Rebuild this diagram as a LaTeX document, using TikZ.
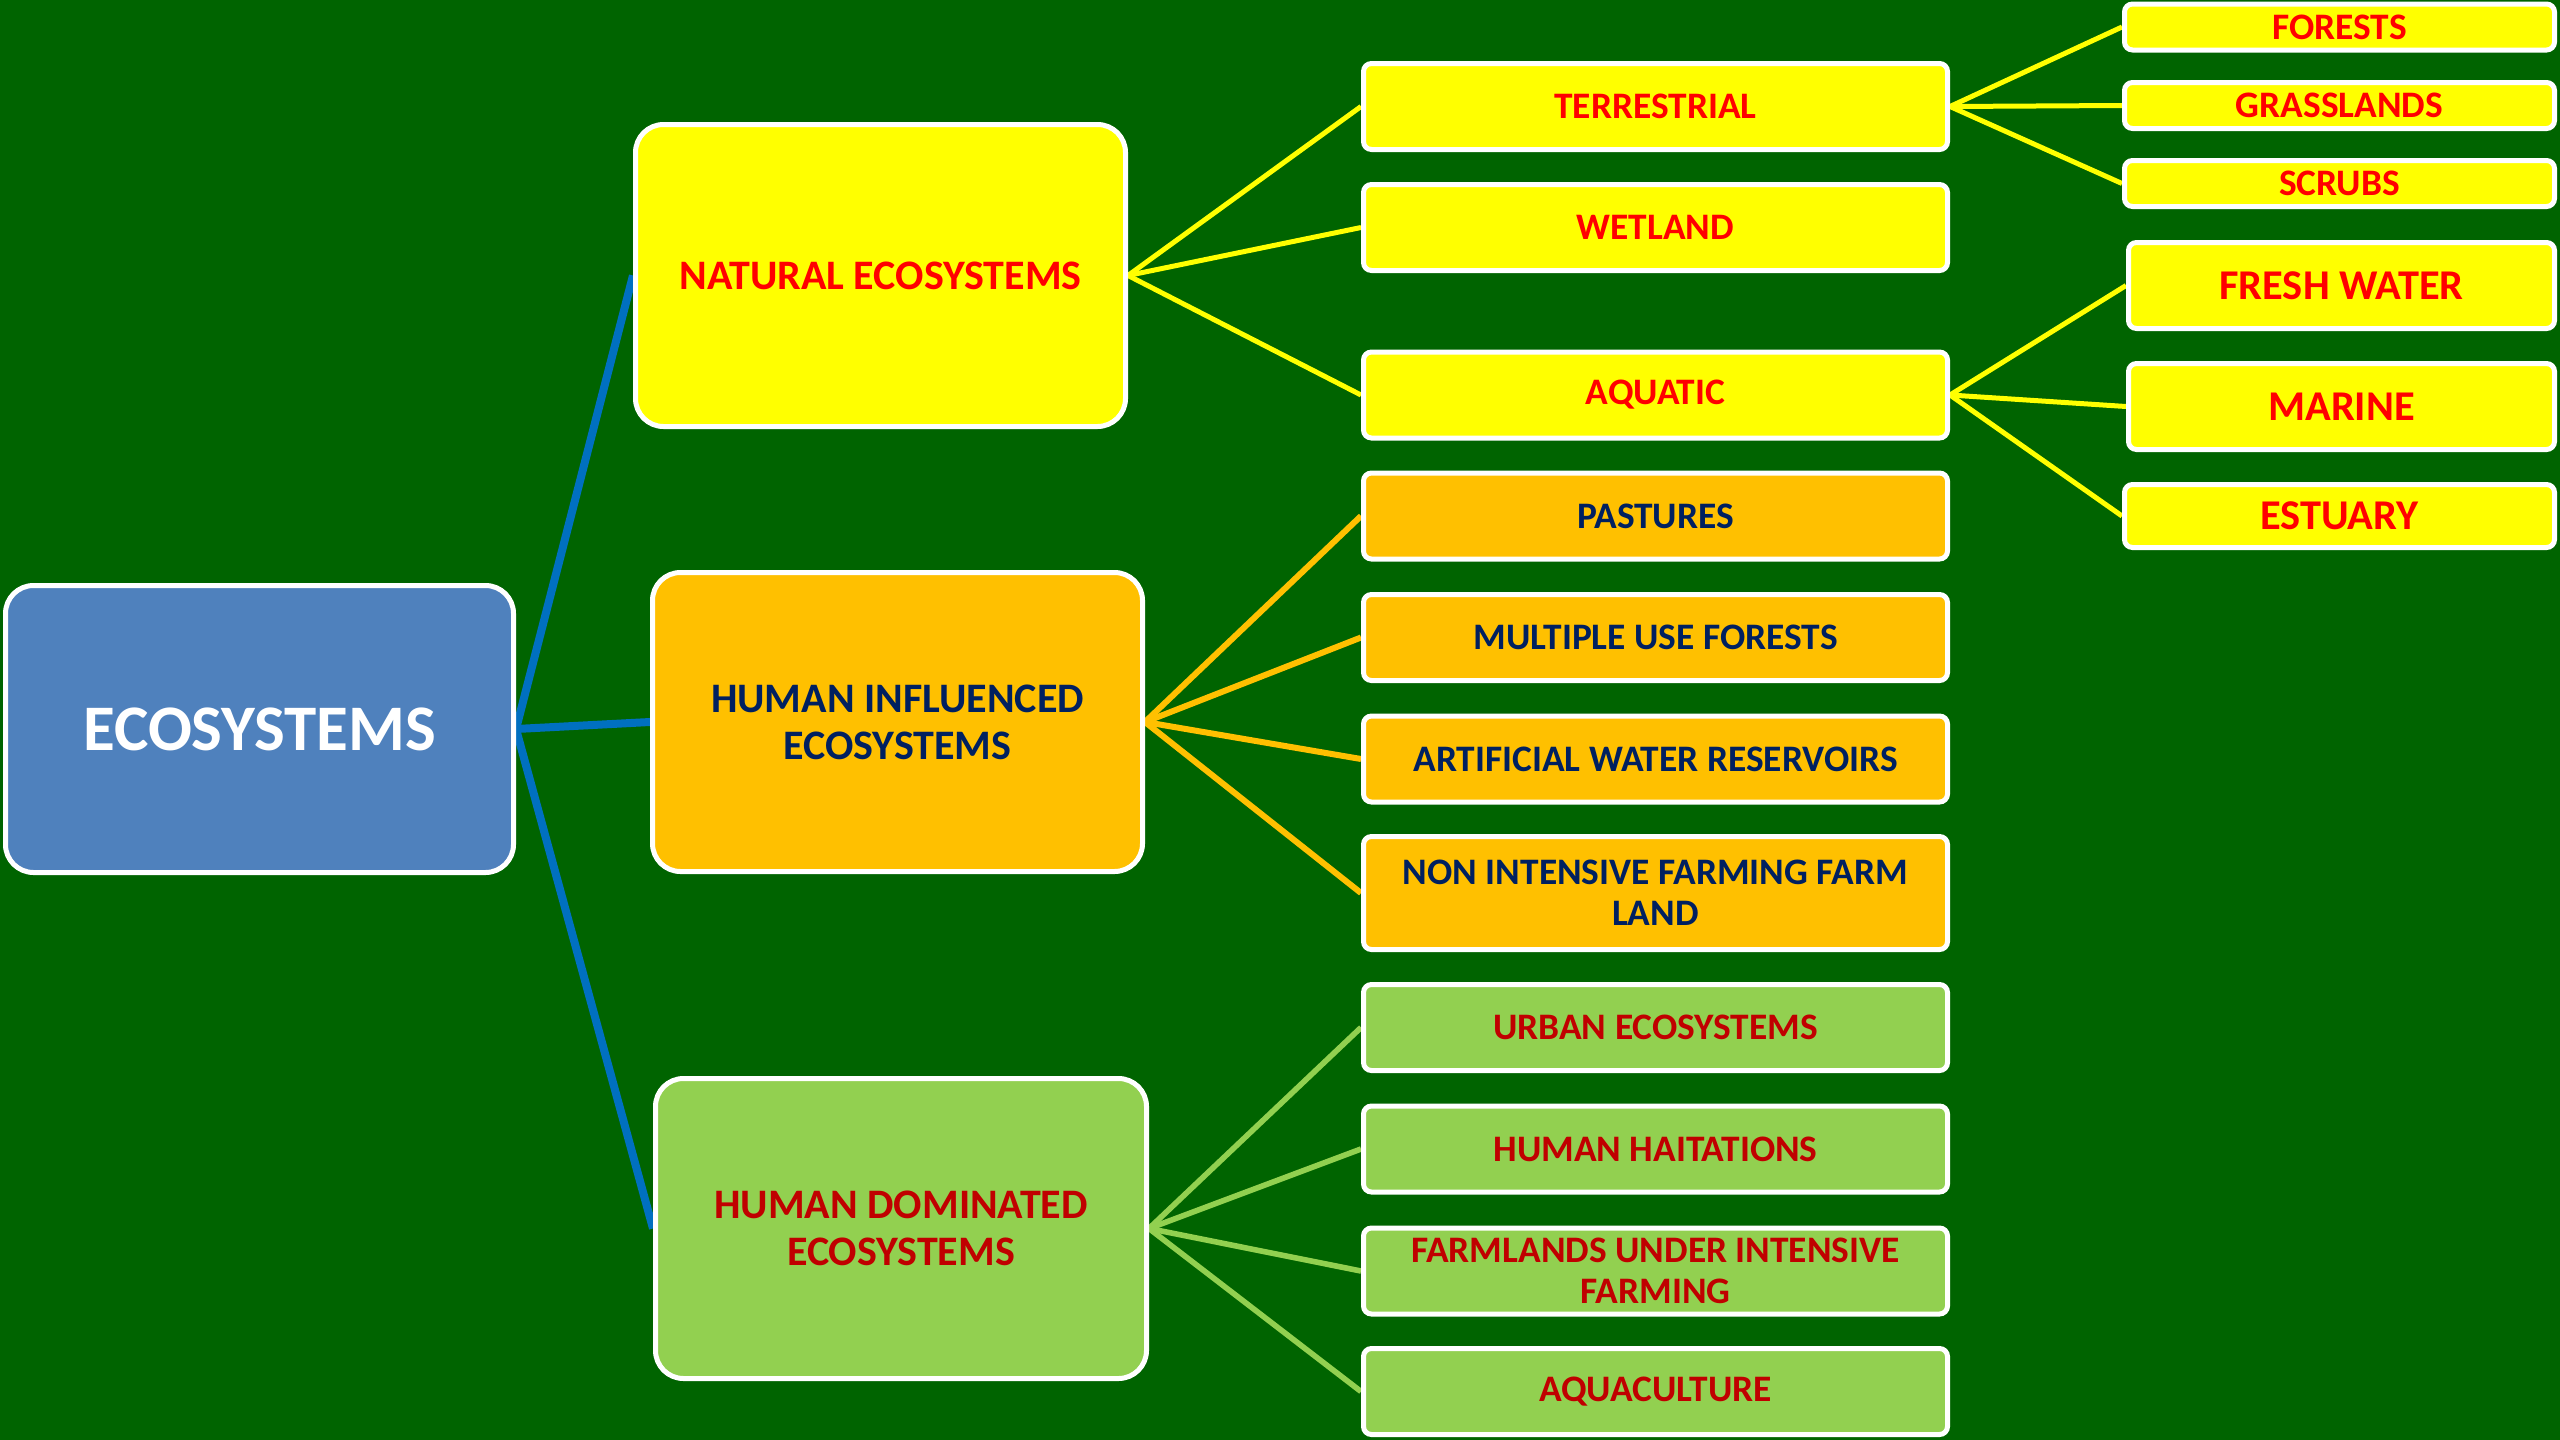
\documentclass[tikz,border=0pt]{standalone}
\usepackage{fontspec}
\setmainfont{Carlito}
\pgfdeclarelayer{bg}
\pgfdeclarelayer{lines}
\pgfsetlayers{bg,lines,main}
\definecolor{bggreen}{RGB}{0,100,0}
\definecolor{ecoblue}{RGB}{79,129,189}
\definecolor{lineblue}{RGB}{0,112,192}
\definecolor{natyellow}{RGB}{255,255,0}
\definecolor{inforange}{RGB}{255,192,0}
\definecolor{domgreen}{RGB}{146,208,80}
\definecolor{navytext}{RGB}{0,32,96}
\definecolor{dkred}{RGB}{192,0,0}
\definecolor{brred}{RGB}{255,0,0}
\begin{document}
\begin{tikzpicture}[x=0.5pt,y=-0.5pt,
  box/.style={draw=white, line width=2.5pt, inner sep=0pt, align=center, font=\bfseries},
  bigbox/.style={box, rounded corners=14pt},
  smallbox/.style={box, rounded corners=4pt},
  natc/.style={fill=natyellow, text=brred},
  infc/.style={fill=inforange, text=navytext},
  domc/.style={fill=domgreen, text=dkred},
  lvtwo/.style={smallbox, minimum width=292pt, minimum height=43pt},
  fbig/.style={font=\bfseries\fontsize{21}{23.5}\selectfont},
  fmid/.style={font=\bfseries\fontsize{18.7}{20.5}\selectfont},
  flarge/.style={font=\bfseries\fontsize{21.2}{24}\selectfont},
  bline/.style={draw=lineblue, line width=4pt},
  yline/.style={draw=natyellow, line width=2.5pt},
  oline/.style={draw=inforange, line width=3pt},
  gline/.style={draw=domgreen, line width=2.8pt}]
\begin{pgfonlayer}{bg}
\fill[bggreen] (0,0) rectangle (2560,1440);
\end{pgfonlayer}
\useasboundingbox (0,0) rectangle (2560,1440);

% root
\node[bigbox, fill=ecoblue, text=white, minimum width=254pt, minimum height=143.5pt,
  font=\bfseries\fontsize{32.5}{38}\selectfont] (eco) at (259.5,729) {ECOSYSTEMS};

% level 1
\node[bigbox, natc, fbig, minimum width=245pt, minimum height=151pt] (nat) at (880.5,275.5) {NATURAL ECOSYSTEMS};
\node[bigbox, infc, fbig, minimum width=245pt, minimum height=149.5pt] (hin) at (897.5,722) {HUMAN INFLUENCED\\ECOSYSTEMS};
\node[bigbox, domc, fbig, minimum width=245.5pt, minimum height=150pt] (hdo) at (901,1228.5) {HUMAN DOMINATED\\ECOSYSTEMS};

% level 2
\node[lvtwo, natc, fmid] (ter) at (1655.5,106.5) {TERRESTRIAL};
\node[lvtwo, natc, fmid] (wet) at (1655.5,227.5) {WETLAND};
\node[lvtwo, natc, fmid] (aqu) at (1655.5,395) {AQUATIC};
\node[lvtwo, infc, fmid] (pas) at (1655.5,516) {PASTURES};
\node[lvtwo, infc, fmid] (mul) at (1655.5,637.5) {MULTIPLE USE FORESTS};
\node[lvtwo, infc, fmid] (art) at (1655.5,759) {ARTIFICIAL WATER RESERVOIRS};
\node[lvtwo, infc, fmid, minimum height=56.5pt] (non) at (1655.5,893) {NON INTENSIVE FARMING FARM\\LAND};
\node[lvtwo, domc, fmid] (urb) at (1655.5,1027.5) {URBAN ECOSYSTEMS};
\node[lvtwo, domc, fmid] (hha) at (1655.5,1149) {HUMAN HAITATIONS};
\node[lvtwo, domc, fmid] (far) at (1655.5,1271) {FARMLANDS UNDER INTENSIVE\\FARMING};
\node[lvtwo, domc, fmid] (aqc) at (1655.5,1391.5) {AQUACULTURE};

% level 3
\node[smallbox, natc, fmid, minimum width=215pt, minimum height=23pt] (for) at (2339.5,27) {FORESTS};
\node[smallbox, natc, fmid, minimum width=215pt, minimum height=23pt] (gra) at (2339.5,105.5) {GRASSLANDS};
\node[smallbox, natc, fmid, minimum width=215pt, minimum height=23pt] (scr) at (2339.5,183.5) {SCRUBS};
\node[smallbox, natc, flarge, minimum width=213pt, minimum height=43pt] (fre) at (2341.5,285.5) {FRESH WATER};
\node[smallbox, natc, flarge, minimum width=213pt, minimum height=43pt] (mar) at (2341.5,406.5) {MARINE};
\node[smallbox, natc, flarge, minimum width=215pt, minimum height=31.5pt] (est) at (2339.5,516) {ESTUARY};

\begin{pgfonlayer}{lines}
\draw[bline] (eco.east) -- (nat.west);
\draw[bline] (eco.east) -- (hin.west);
\draw[bline] (eco.east) -- (hdo.west);
\draw[yline] (nat.east) -- (ter.west);
\draw[yline] (nat.east) -- (wet.west);
\draw[yline] (nat.east) -- (aqu.west);
\draw[oline] (hin.east) -- (pas.west);
\draw[oline] (hin.east) -- (mul.west);
\draw[oline] (hin.east) -- (art.west);
\draw[oline] (hin.east) -- (non.west);
\draw[gline] (hdo.east) -- (urb.west);
\draw[gline] (hdo.east) -- (hha.west);
\draw[gline] (hdo.east) -- (far.west);
\draw[gline] (hdo.east) -- (aqc.west);
\draw[yline] (ter.east) -- (for.west);
\draw[yline] (ter.east) -- (gra.west);
\draw[yline] (ter.east) -- (scr.west);
\draw[yline] (aqu.east) -- (fre.west);
\draw[yline] (aqu.east) -- (mar.west);
\draw[yline] (aqu.east) -- (est.west);
\end{pgfonlayer}
\end{tikzpicture}
\end{document}
